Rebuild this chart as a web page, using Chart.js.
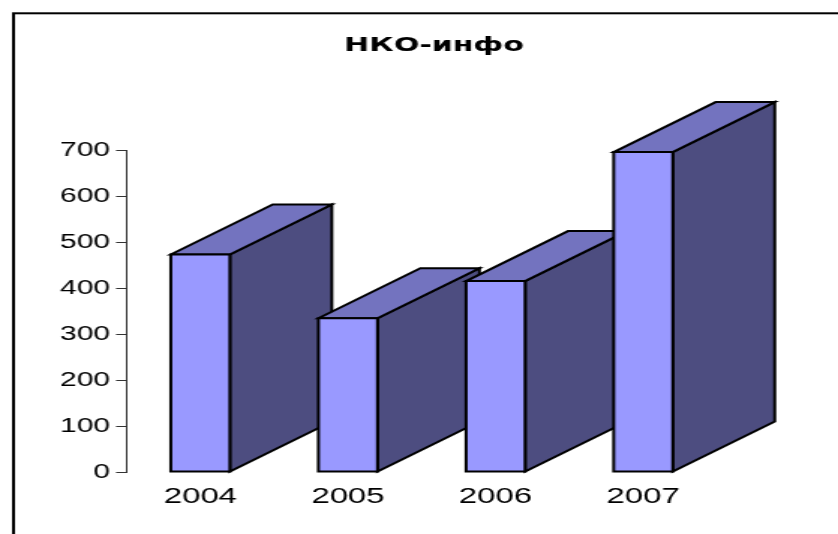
<!DOCTYPE html>
<html>
<head>
<meta charset="utf-8">
<script src="https://cdn.jsdelivr.net/npm/chart.js@4.4.1/dist/chart.umd.min.js"></script>
<style>
  html, body { margin: 0; padding: 0; background: #fff; }
</style>
</head>
<body>
<!-- obrázek je v originále roztažený do šířky, proto canvas roztahujeme přes inline styl -->
<canvas id="chart" width="559" height="534" style="display:block;width:838px;height:534px"></canvas>
<script>
const titleText = "НКО-инфо";
const years = ["2004", "2005", "2006", "2007"];
const values = [474, 335, 416, 697];
const yTicks = [0, 100, 200, 300, 400, 500, 600, 700];

const frontColor = "#9999FF";
const topColor = "#7373BF";
const sideColor = "#4D4D80";
const depthX = 68;  // hloubka kvádru
const depthY = 50;

function poly(ctx, pts, fill) {
  ctx.beginPath();
  ctx.moveTo(pts[0][0], pts[0][1]);
  for (let i = 1; i < pts.length; i++) ctx.lineTo(pts[i][0], pts[i][1]);
  ctx.closePath();
  ctx.fillStyle = fill;
  ctx.fill();
  ctx.stroke();
}

// bílé pozadí + rámeček
const frame = {
  id: "frame",
  beforeDraw(chart) {
    const ctx = chart.ctx;
    ctx.save();
    ctx.fillStyle = "#fff";
    ctx.fillRect(0, 0, chart.width, chart.height);
    ctx.strokeStyle = "#000";
    ctx.lineWidth = 2;
    ctx.strokeRect(9, 13.3, chart.width + 20, chart.height + 20);
    ctx.restore();
  }
};

// 3D sloupce - kreslí se zleva doprava, pravý překrývá bok levého
const box3d = {
  id: "box3d",
  afterDatasetsDraw(chart) {
    const ctx = chart.ctx;
    const meta = chart.getDatasetMeta(0);
    ctx.save();
    ctx.lineWidth = 2;
    ctx.strokeStyle = "#000";
    ctx.lineJoin = "miter";
    meta.data.forEach(bar => {
      const p = bar.getProps(["x", "y", "base", "width"], true);
      const l = p.x - p.width / 2;
      const r = p.x + p.width / 2;
      const t = p.y;
      const b = p.base;
      poly(ctx, [[r, t], [r + depthX, t - depthY], [r + depthX, b - depthY], [r, b]], sideColor);
      poly(ctx, [[l, t], [l + depthX, t - depthY], [r + depthX, t - depthY], [r, t]], topColor);
      poly(ctx, [[l, t], [r, t], [r, b], [l, b]], frontColor);
    });
    ctx.restore();
  }
};

new Chart(document.getElementById("chart"), {
  type: "bar",
  data: {
    labels: years,
    datasets: [{
      label: titleText,
      data: values,
      backgroundColor: "rgba(0,0,0,0)",
      borderWidth: 0,
      categoryPercentage: 1,
      barPercentage: 0.4
    }]
  },
  options: {
    responsive: false,
    devicePixelRatio: 1,
    animation: false,
    layout: { padding: { left: 20, right: 0, top: 0, bottom: 11.5 } },
    plugins: {
      legend: { display: false },
      tooltip: { enabled: false },
      title: {
        display: true,
        text: titleText,
        color: "#000",
        font: { family: "DejaVu Sans, Verdana, sans-serif", size: 20, weight: "bold" },
        padding: { top: 34, bottom: 92.7 }
      }
    },
    scales: {
      x: {
        grid: { display: false, drawTicks: false },
        border: { display: false },
        ticks: {
          color: "#000",
          padding: 12,
          font: { family: "Liberation Sans, Arial, sans-serif", size: 22 }
        }
      },
      y: {
        min: 0,
        max: 700,
        afterFit(scale) { scale.width = 64.4; },
        afterBuildTicks(scale) { scale.ticks = yTicks.map(v => ({ value: v })); },
        grid: { drawOnChartArea: false, drawTicks: true, tickLength: 7, color: "#333" },
        border: { display: true, color: "#333", width: 1 },
        ticks: {
          color: "#000",
          padding: 4,
          font: { family: "Liberation Sans, Arial, sans-serif", size: 20 }
        }
      },
      // prázdná osa vpravo jen kvůli volnému místu napravo od sloupců
      yRight: {
        type: "linear",
        position: "right",
        min: 0,
        max: 1,
        afterFit(scale) { scale.width = 80.7; },
        grid: { display: false },
        border: { display: false },
        ticks: { display: false }
      }
    }
  },
  plugins: [frame, box3d]
});
</script>
</body>
</html>
